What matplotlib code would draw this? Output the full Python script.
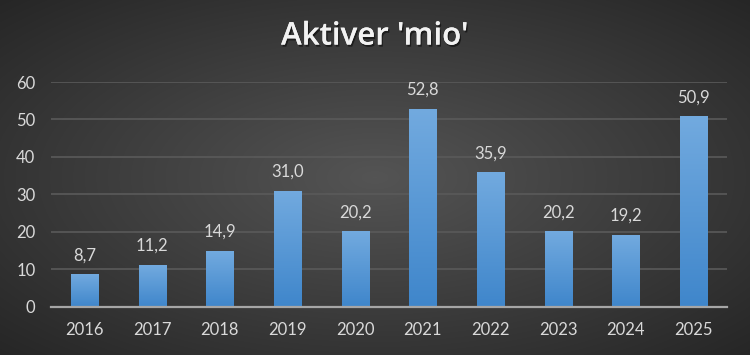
import numpy as np
from matplotlib import pyplot as plt
from matplotlib import patheffects

years = ['2016', '2017', '2018', '2019', '2020', '2021', '2022', '2023', '2024', '2025']
assets = [8.7, 11.2, 14.9, 31.0, 20.2, 52.8, 35.9, 20.2, 19.2, 50.9]
labels = ['8,7', '11,2', '14,9', '31,0', '20,2', '52,8', '35,9', '20,2', '19,2', '50,9']
title = "Aktiver 'mio'"

plt.rcParams['font.family'] = ['Lato', 'DejaVu Sans']
text_color = '#d9d9d9'

fig = plt.figure(figsize=(7.5, 3.55), dpi=100)

# radial gradient background, lighter in the middle
bg = fig.add_axes([0, 0, 1, 1], zorder=-10)
yy, xx = np.mgrid[-1:1:355j, -1:1:750j]
r = np.clip(np.sqrt(xx ** 2 + yy ** 2) / np.sqrt(2), 0, 1)
shade = 0.33 - 0.18 * r
bg.imshow(np.dstack([shade, shade, shade]), aspect='auto', extent=[0, 1, 0, 1])
bg.axis('off')

ax = fig.add_axes([0.0676, 0.136, 0.9021, 0.633])
ax.patch.set_alpha(0)

x = np.arange(len(years))
bars = ax.bar(x, assets, width=0.4, color='#5b9bd5', zorder=3)

# vertical gradient inside each bar
grad = np.linspace(0, 1, 256).reshape(-1, 1)
top = np.array([114, 170, 223]) / 255
bottom = np.array([63, 134, 203]) / 255
grad_img = (bottom + (top - bottom) * grad[:, :, None] * np.ones((1, 1, 3)))
for b in bars:
    bx, by = b.get_x(), b.get_y()
    im = ax.imshow(grad_img, origin='lower', aspect='auto', zorder=4,
                   extent=[bx, bx + b.get_width(), by, by + b.get_height()])
    im.set_clip_path(b)

for xi, v, lab in zip(x, assets, labels):
    ax.annotate(lab, (xi, v), xytext=(0, 10), textcoords='offset points',
                ha='center', va='baseline', color=text_color, fontsize=12)

ax.set_xlim(-0.5, len(years) - 0.5)
ax.set_ylim(0, 60)
ax.set_yticks(range(0, 61, 10))
ax.set_xticks(x)
ax.set_xticklabels(years)
ax.grid(axis='y', color='#5a5a5a', linewidth=1.2, zorder=0)
ax.set_axisbelow(True)
for s in ['top', 'right', 'left']:
    ax.spines[s].set_visible(False)
ax.spines['bottom'].set_color('#a6a6a6')
ax.spines['bottom'].set_linewidth(1.6)
ax.spines['bottom'].set_zorder(5)
ax.tick_params(axis='both', length=0, colors=text_color, labelsize=12)
ax.tick_params(axis='y', pad=11)
ax.tick_params(axis='x', pad=11)

fig.text(0.5, 0.897, title, ha='center', va='center', color='#f2f2f2',
         fontsize=22.5, fontweight='semibold', family=['Open Sans', 'DejaVu Sans'],
         path_effects=[patheffects.withSimplePatchShadow(offset=(1, -1.5), shadow_rgbFace='black', alpha=0.5),
                       patheffects.Normal()])

fig.savefig('out.png', dpi=100)
